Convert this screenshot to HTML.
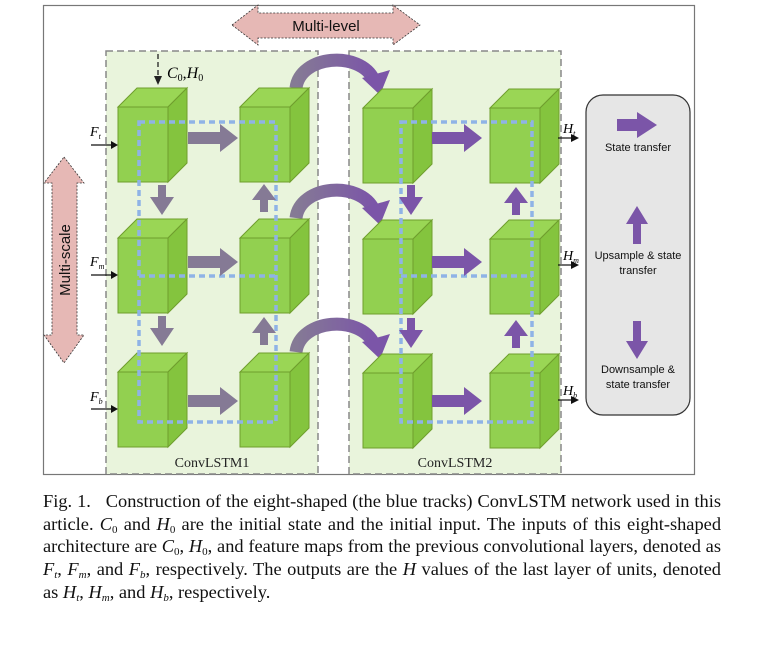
<!DOCTYPE html>
<html><head><meta charset="utf-8"><style>
body{margin:0;background:#fff;width:763px;height:660px;overflow:hidden;position:relative}
.cap{position:absolute;left:43px;top:490px;width:678px;font-family:"Liberation Serif",serif;font-size:18.4px;line-height:22.7px;text-align:justify;color:#111}
.cap i{font-style:italic}
.cap sub{font-size:11px;line-height:0;vertical-align:-3px}
</style></head><body>
<svg width="763" height="480" style="position:absolute;left:0;top:0" font-family="Liberation Sans, sans-serif">
<defs>
<g id="cube">
<polygon points="0,19 19,0 69,0 50,19" fill="#9ad655" stroke="#6f9e2d" stroke-width="1"/>
<polygon points="50,19 69,0 69,75 50,94" fill="#84c43e" stroke="#6f9e2d" stroke-width="1"/>
<rect x="0" y="19" width="50" height="75" fill="#92d050" stroke="#6f9e2d" stroke-width="1"/>
</g>
<linearGradient id="cg" x1="0" x2="1"><stop offset="0" stop-color="#857a95"/><stop offset="1" stop-color="#7b55a8"/></linearGradient>
</defs>
<rect x="43.5" y="5.5" width="651" height="469" fill="#fff" stroke="#777" stroke-width="1.2"/>
<rect x="106" y="51" width="212" height="423" fill="#e9f4dc" stroke="#888" stroke-width="1.5" stroke-dasharray="7,4"/>
<rect x="349" y="51" width="212" height="423" fill="#e9f4dc" stroke="#888" stroke-width="1.5" stroke-dasharray="7,4"/>
<polygon points="232,25 258,5 258,13 393,13 393,5 420,25 393,45 393,38 258,38 258,45" fill="#e6b8b5" stroke="#333" stroke-width="0.8" stroke-dasharray="2,1.5"/>
<text x="326" y="31" font-size="15" text-anchor="middle" fill="#111">Multi-level</text>
<polygon points="64,157 84,183 77,183 77,335 84,335 64,363 44,335 52,335 52,183 44,183" fill="#e6b8b5" stroke="#333" stroke-width="0.8" stroke-dasharray="2,1.5"/>
<text transform="translate(70,260) rotate(-90)" font-size="15" text-anchor="middle" fill="#111">Multi-scale</text>
<line x1="158" y1="54" x2="158" y2="78" stroke="#222" stroke-width="1.3" stroke-dasharray="5,3"/>
<polygon points="154,76 162,76 158,85" fill="#222"/>
<text x="167" y="78" font-family="Liberation Serif,serif" font-style="italic" font-size="16">C<tspan font-size="10" dy="3" font-style="normal">0</tspan><tspan dy="-3" font-style="normal">,</tspan>H<tspan font-size="10" dy="3" font-style="normal">0</tspan></text>
<g fill="none" stroke="url(#cg)" stroke-width="13">
<path d="M 296,88 C 300,55 360,50 374,80"/>
<path d="M 296,218 C 300,185 360,180 374,210"/>
<path d="M 296,352 C 300,319 360,314 374,344"/>
</g>
<g fill="#7b55a8">
<polygon points="362,78 390,70 380,95"/>
<polygon points="362,208 390,200 380,225"/>
<polygon points="362,342 390,334 380,359"/>
</g>
<use href="#cube" x="118" y="88"/><use href="#cube" x="240" y="88"/>
<use href="#cube" x="118" y="219"/><use href="#cube" x="240" y="219"/>
<use href="#cube" x="118" y="353"/><use href="#cube" x="240" y="353"/>
<use href="#cube" x="363" y="89"/><use href="#cube" x="490" y="89"/>
<use href="#cube" x="363" y="220"/><use href="#cube" x="490" y="220"/>
<use href="#cube" x="363" y="354"/><use href="#cube" x="490" y="354"/>
<g fill="none" stroke="#8fb3e6" stroke-width="3.5" stroke-dasharray="6,4">
<path d="M139,122 H276 V422 H139 Z M139,276 H276"/>
<path d="M401,122 H532 V422 H401 Z M401,276 H532"/>
</g>
<g fill="#857a95">
<path d="M188,132 h32 v-8 l18,14 -18,14 v-8 h-32z"/>
<path d="M188,256 h32 v-8 l18,14 -18,14 v-8 h-32z"/>
<path d="M188,395 h32 v-8 l18,14 -18,14 v-8 h-32z"/>
<path d="M158,185 h8 v12 h8 l-12,18 -12,-18 h8z"/>
<path d="M158,316 h8 v12 h8 l-12,18 -12,-18 h8z"/>
<path d="M260,212 h8 v-12 h8 l-12,-16 -12,16 h8z"/>
<path d="M260,345 h8 v-12 h8 l-12,-16 -12,16 h8z"/>
</g>
<g fill="#7b55a8">
<path d="M432,132 h32 v-8 l18,14 -18,14 v-8 h-32z"/>
<path d="M432,256 h32 v-8 l18,14 -18,14 v-8 h-32z"/>
<path d="M432,395 h32 v-8 l18,14 -18,14 v-8 h-32z"/>
<path d="M407,185 h8 v12 h8 l-12,18 -12,-18 h8z"/>
<path d="M407,318 h8 v12 h8 l-12,18 -12,-18 h8z"/>
<path d="M512,215 h8 v-12 h8 l-12,-16 -12,16 h8z"/>
<path d="M512,348 h8 v-12 h8 l-12,-16 -12,16 h8z"/>
</g>
<g stroke="#111" stroke-width="1.2"><line x1="91" y1="145" x2="112" y2="145"/><line x1="91" y1="275" x2="112" y2="275"/><line x1="91" y1="409" x2="112" y2="409"/>
<line x1="558" y1="138" x2="572" y2="138"/><line x1="558" y1="265" x2="572" y2="265"/><line x1="558" y1="400" x2="572" y2="400"/></g>
<g fill="#111"><polygon points="111,141 118,145 111,149"/><polygon points="111,271 118,275 111,279"/><polygon points="111,405 118,409 111,413"/>
<polygon points="571,134 579,138 571,142"/><polygon points="571,261 579,265 571,269"/><polygon points="571,396 579,400 571,404"/></g>
<g font-family="Liberation Serif,serif" font-style="italic" font-size="14">
<text x="90" y="136">F<tspan font-size="8" dy="3">t</tspan></text>
<text x="90" y="266">F<tspan font-size="8" dy="3">m</tspan></text>
<text x="90" y="401">F<tspan font-size="8" dy="3">b</tspan></text>
<text x="563" y="133">H<tspan font-size="8" dy="3">t</tspan></text>
<text x="563" y="260">H<tspan font-size="8" dy="3">m</tspan></text>
<text x="563" y="395">H<tspan font-size="8" dy="3">b</tspan></text>
</g>
<text x="212" y="467" font-family="Liberation Serif,serif" font-size="14" text-anchor="middle" fill="#222">ConvLSTM1</text>
<text x="455" y="467" font-family="Liberation Serif,serif" font-size="14" text-anchor="middle" fill="#222">ConvLSTM2</text>
<rect x="586" y="95" width="104" height="320" rx="17" fill="#e6e6e6" stroke="#333" stroke-width="1.2"/>
<g fill="#7b55a8">
<path d="M617,119 h20 v-7 l20,13 -20,13 v-7 h-20z"/>
<path d="M633,244 h8 v-20 h7 l-11,-18 -11,18 h7z"/>
<path d="M633,321 h8 v20 h7 l-11,18 -11,-18 h7z"/>
</g>
<g font-size="11" text-anchor="middle" fill="#111">
<text x="638" y="151">State transfer</text>
<text x="638" y="259">Upsample &amp; state</text>
<text x="638" y="274">transfer</text>
<text x="638" y="373">Downsample &amp;</text>
<text x="638" y="388">state transfer</text>
</g>
</svg>
<div class="cap">Fig. 1.&nbsp;&nbsp; Construction of the eight-shaped (the blue tracks) ConvLSTM network used in this article. <i>C</i><sub>0</sub> and <i>H</i><sub>0</sub> are the initial state and the initial input. The inputs of this eight-shaped architecture are <i>C</i><sub>0</sub>, <i>H</i><sub>0</sub>, and feature maps from the previous convolutional layers, denoted as <i>F<sub>t</sub></i>, <i>F<sub>m</sub></i>, and <i>F<sub>b</sub></i>, respectively. The outputs are the <i>H</i> values of the last layer of units, denoted as <i>H<sub>t</sub></i>, <i>H<sub>m</sub></i>, and <i>H<sub>b</sub></i>, respectively.</div>
</body></html>
